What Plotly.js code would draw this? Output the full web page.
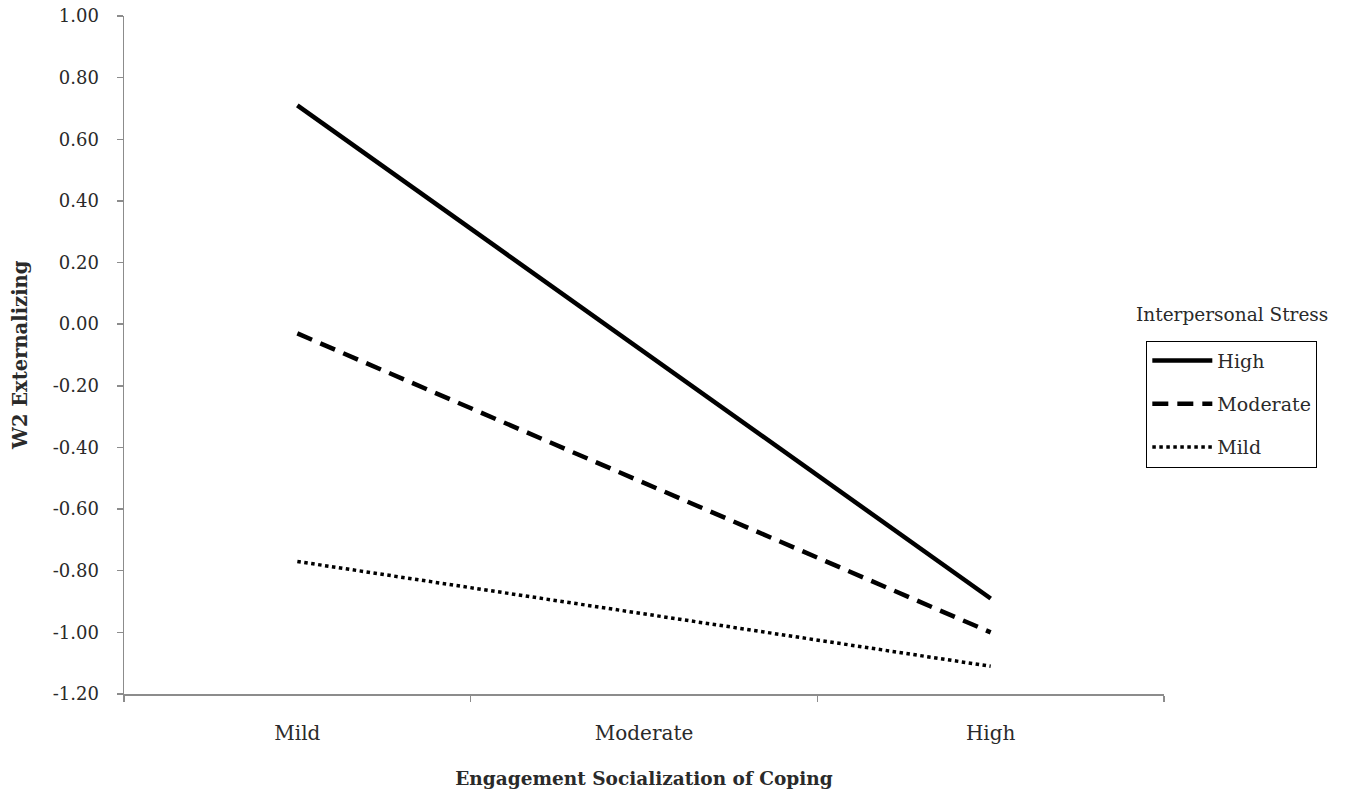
<!DOCTYPE html>
<html>
<head>
<meta charset="utf-8">
<script src="https://cdn.plot.ly/plotly-3.0.1.min.js"></script>
<style>html,body{margin:0;padding:0;background:#fff;}#chart{width:1351px;height:797px;}</style>
</head>
<body>
<div id="chart"></div>
<script>
const categories = ["Mild", "Moderate", "High"];
const xPoints = ["Mild", "High"];
const seriesNames = ["High", "Moderate", "Mild"];
const highValues = [0.71, -0.89];
const moderateValues = [-0.03, -1.00];
const mildValues = [-0.77, -1.11];
const yTickVals = [-1.2, -1.0, -0.8, -0.6, -0.4, -0.2, 0.0, 0.2, 0.4, 0.6, 0.8, 1.0];
const yTickText = ["-1.20", "-1.00", "-0.80", "-0.60", "-0.40", "-0.20", "0.00", "0.20", "0.40", "0.60", "0.80", "1.00"];
const yTitle = "W2 Externalizing";
const legendTitle = "Interpersonal Stress";

const serif = "DejaVu Serif, Liberation Serif, serif";
const txt = "#2a2a2a";
const styles = [
  {width: 4.5, dash: "solid"},
  {width: 4.5, dash: "16px,9px"},
  {width: 3.5, dash: "dot"}
];
const values = [highValues, moderateValues, mildValues];

const traces = seriesNames.map((n, i) => ({
  type: "scatter",
  mode: "lines",
  name: n,
  legendgroup: "g" + i,
  x: xPoints,
  y: values[i],
  line: {color: "#000", width: styles[i].width, dash: styles[i].dash},
  hoverinfo: "x+y+name"
}));

const layout = {
  width: 1351, height: 797,
  margin: {l: 124, r: 187, t: 16, b: 103},
  paper_bgcolor: "#fff", plot_bgcolor: "#fff",
  font: {family: serif, color: txt, size: 19},
  showlegend: true,
  legend: {
    x: 0.983, y: 0.521, xanchor: "left", yanchor: "top",
    bordercolor: "#000", borderwidth: 1,
    font: {family: serif, size: 19, color: txt},
    tracegroupgap: 15.5,
    itemwidth: 60
  },
  xaxis: {
    type: "category",
    categoryorder: "array", categoryarray: categories,
    range: [-0.5, 2.5],
    showline: true, linecolor: "#8c8c8c", linewidth: 1.5,
    ticks: "outside", tickson: "boundaries", ticklen: 6, tickcolor: "#8c8c8c", tickwidth: 1.5,
    showgrid: false, zeroline: false,
    ticklabelstandoff: 20,
    tickfont: {family: serif, size: 20, color: txt},
    title: {text: "<b>Engagement Socialization of Coping</b>", font: {family: serif, size: 18.5, color: txt}, standoff: 28}
  },
  yaxis: {
    range: [-1.2, 1.0],
    tickmode: "array",
    tickvals: yTickVals,
    ticktext: yTickText,
    showline: true, linecolor: "#8c8c8c", linewidth: 1.5,
    ticks: "outside", ticklen: 6, tickcolor: "#8c8c8c", tickwidth: 1.5,
    showgrid: false, zeroline: false,
    ticklabelstandoff: 14,
    tickfont: {family: serif, size: 18, color: txt}
  },
  annotations: [{
    text: legendTitle, xref: "paper", yref: "paper",
    x: 1.065, y: 0.56, xanchor: "center", yanchor: "middle",
    showarrow: false, font: {family: serif, size: 18.5, color: txt}
  }, {
    text: "<b>" + yTitle + "</b>", xref: "paper", yref: "paper",
    x: 0, y: 0.5, xanchor: "center", yanchor: "middle", xshift: -104,
    textangle: -90,
    showarrow: false, font: {family: serif, size: 19.5, color: txt}
  }]
};

Plotly.newPlot("chart", traces, layout, {displayModeBar: false, staticPlot: true});
</script>
</body>
</html>
